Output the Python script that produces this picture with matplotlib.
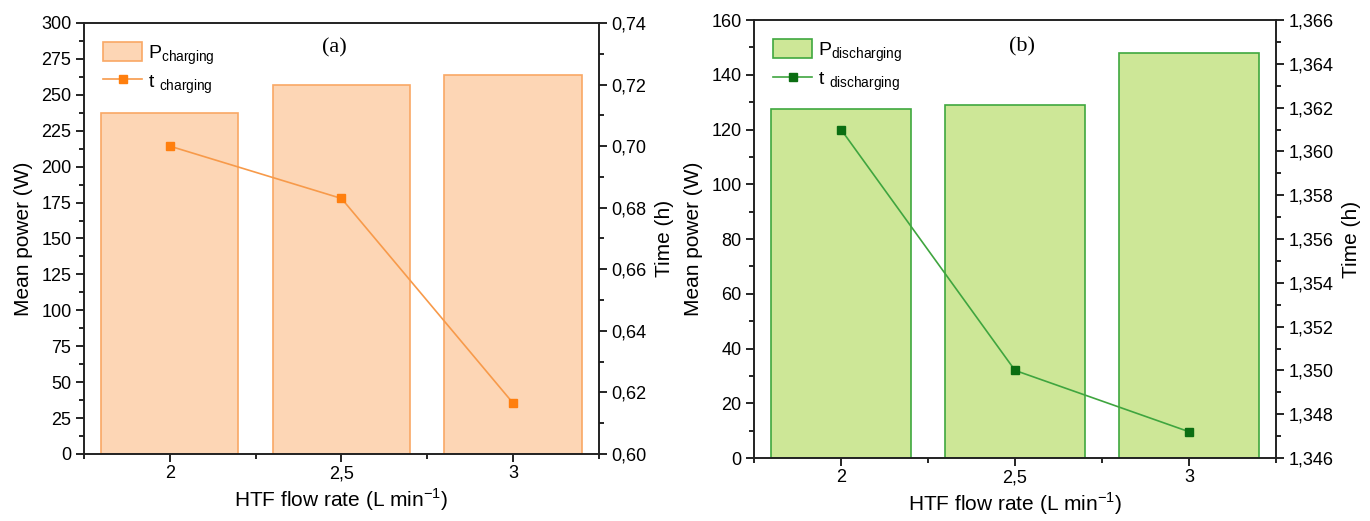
import matplotlib
matplotlib.use("Agg")
import matplotlib.pyplot as plt
from matplotlib.ticker import MultipleLocator, FuncFormatter
from matplotlib.lines import Line2D
from matplotlib.patches import Patch

plt.rcParams['font.family'] = ['Liberation Sans', 'DejaVu Sans']
plt.rcParams['mathtext.fontset'] = 'custom'
plt.rcParams['mathtext.rm'] = 'Liberation Sans'

# ---- data ----
flow_rates = [2.0, 2.5, 3.0]
flow_labels = ["2", "2,5", "3"]
p_charging = [237.5, 257, 264]
t_charging = [0.700, 0.683, 0.6165]
p_discharging = [127.5, 129, 148]
t_discharging = [1.3610, 1.3500, 1.3472]

fig = plt.figure(figsize=(13.7, 5.21), dpi=100)

def comma_fmt(dec):
    return FuncFormatter(lambda v, p: (f"{v:.{dec}f}").replace('.', ','))

def style_axes(ax, ax2):
    for a in (ax, ax2):
        for s in a.spines.values():
            s.set_linewidth(1.2)
            s.set_color('#222222')
    ax.tick_params(axis='both', which='major', direction='out', length=6, width=1.2, labelsize=13, pad=3)
    ax.tick_params(axis='x', which='major', pad=2)
    ax.tick_params(axis='both', which='minor', direction='out', length=3.5, width=1.2)
    ax2.tick_params(axis='y', which='major', direction='out', length=6, width=1.2, labelsize=13, pad=3)
    ax2.tick_params(axis='y', which='minor', direction='out', length=3.5, width=1.2)
    ax.set_xlim(1.75, 3.25)
    ax.set_xticks(flow_rates)
    ax.set_xticklabels(flow_labels)
    ax.xaxis.set_minor_locator(MultipleLocator(0.25))
    ax.set_xlabel("HTF flow rate (L min$^{\\mathregular{-1}}$)", fontsize=15, labelpad=3)
    ax2.set_ylabel("Time (h)", fontsize=15, labelpad=6)
    ax.set_ylabel("Mean power (W)", fontsize=15, labelpad=6)

# ---- panel (a) ----
axA = fig.add_axes([0.0613, 0.1286, 0.3759, 0.8273])
bar_fc_a = '#FDD6B5'
bar_ec_a = '#F9A865'
line_c_a = '#F79A4A'
mk_c_a = '#FF7F0E'
axA.bar(flow_rates, p_charging, width=0.4, color=bar_fc_a, edgecolor=bar_ec_a, linewidth=1.2, zorder=1)
axA.set_ylim(0, 300)
axA.yaxis.set_major_locator(MultipleLocator(25))
axA.yaxis.set_minor_locator(MultipleLocator(12.5))
axA2 = axA.twinx()
axA2.plot(flow_rates, t_charging, color=line_c_a, linewidth=1.2, marker='s', markersize=6,
          markerfacecolor=mk_c_a, markeredgecolor=mk_c_a, zorder=3)
axA2.set_ylim(0.60, 0.74)
axA2.yaxis.set_major_locator(MultipleLocator(0.02))
axA2.yaxis.set_minor_locator(MultipleLocator(0.01))
axA2.yaxis.set_major_formatter(comma_fmt(2))
style_axes(axA, axA2)
axA.text(0.487, 0.942, "(a)", transform=axA.transAxes, ha='center', va='center',
         fontsize=16, family=['Liberation Serif', 'DejaVu Serif'])
hA = [Patch(facecolor=bar_fc_a, edgecolor=bar_ec_a, linewidth=1.2),
      Line2D([0], [0], color=line_c_a, linewidth=1.2, marker='s', markersize=6,
             markerfacecolor=mk_c_a, markeredgecolor=mk_c_a)]
axA2.legend(hA, ["P$_{\\mathregular{charging}}$", "t $_{\\mathregular{charging}}$"],
            loc='upper left', frameon=False, fontsize=14, handlelength=2.0, handleheight=1.1,
            borderaxespad=0.6, labelspacing=0.25, handletextpad=0.3)

# ---- panel (b) ----
axB = fig.add_axes([0.5504, 0.1209, 0.3810, 0.8407])
bar_fc_b = '#CDE797'
bar_ec_b = '#3FA83F'
line_c_b = '#3FA53F'
mk_c_b = '#0B6E12'
axB.bar(flow_rates, p_discharging, width=0.4, color=bar_fc_b, edgecolor=bar_ec_b, linewidth=1.2, zorder=1)
axB.set_ylim(0, 160)
axB.yaxis.set_major_locator(MultipleLocator(20))
axB.yaxis.set_minor_locator(MultipleLocator(10))
axB2 = axB.twinx()
axB2.plot(flow_rates, t_discharging, color=line_c_b, linewidth=1.2, marker='s', markersize=6,
          markerfacecolor=mk_c_b, markeredgecolor=mk_c_b, zorder=3)
axB2.set_ylim(1.346, 1.366)
axB2.yaxis.set_major_locator(MultipleLocator(0.002))
axB2.yaxis.set_minor_locator(MultipleLocator(0.001))
axB2.yaxis.set_major_formatter(comma_fmt(3))
style_axes(axB, axB2)
axB.text(0.513, 0.938, "(b)", transform=axB.transAxes, ha='center', va='center',
         fontsize=16, family=['Liberation Serif', 'DejaVu Serif'])
hB = [Patch(facecolor=bar_fc_b, edgecolor=bar_ec_b, linewidth=1.2),
      Line2D([0], [0], color=line_c_b, linewidth=1.2, marker='s', markersize=6,
             markerfacecolor=mk_c_b, markeredgecolor=mk_c_b)]
axB2.legend(hB, ["P$_{\\mathregular{discharging}}$", "t $_{\\mathregular{discharging}}$"],
            loc='upper left', frameon=False, fontsize=14, handlelength=2.0, handleheight=1.1,
            borderaxespad=0.6, labelspacing=0.25, handletextpad=0.3)

fig.savefig("out.png", dpi=100)
